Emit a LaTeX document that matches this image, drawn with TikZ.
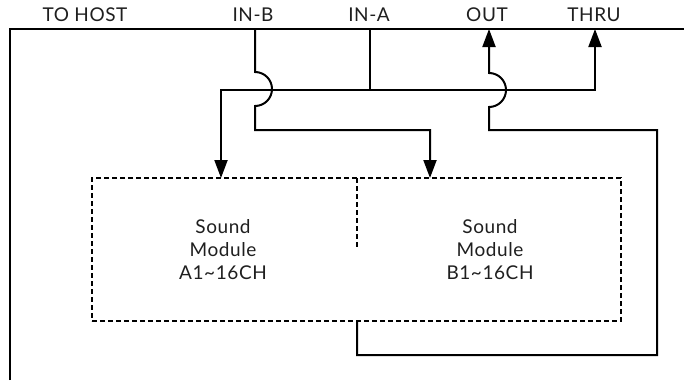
\documentclass[tikz,border=0pt]{standalone}
\usepackage{fontspec}
\setmainfont{Lato}[LetterSpace=3]
\usetikzlibrary{arrows.meta}
\begin{document}
\begin{tikzpicture}[x=1pt,y=-1pt,
  wire/.style={line width=2pt,line join=miter},
  arr/.style={wire,-{Triangle[length=18pt,width=13pt]}},
  dash box/.style={line width=1.1pt,dash pattern=on 5pt off 3pt},
  portlabel/.style={anchor=base,inner sep=0pt,text=black!88,font=\fontsize{19}{20}\selectfont},
  modtext/.style={align=center,inner sep=0pt,text=black!88,font=\fontsize{19}{23}\selectfont}]
\useasboundingbox (0,0) rectangle (684,380);
% frame
\coordinate (BL) at (10,380);
\coordinate (TR) at (684,29);
\draw[wire] (BL) |- (TR);
% port labels
\node[portlabel] (lhost) at (85,21) {TO HOST};
\node[portlabel] (linb) at (253,21) {IN-B};
\node[portlabel] (lina) at (369,21) {IN-A};
\node[portlabel] (lout) at (487,21) {OUT};
\node[portlabel] (lthru) at (594,21) {THRU};
% ports on the frame
\coordinate (inb) at (255,29);
\coordinate (ina) at (370,29);
\coordinate (out) at (489,29);
\coordinate (thru) at (595,29);
% dashed module box
\node[draw,dash box,minimum width=529pt,minimum height=143pt,inner sep=0pt] (box) at (356.5,249.5) {};
\coordinate (divtop) at (357,178);
\coordinate (divbot) at (357,248);
\draw[dash box] (divtop) -- (divbot);
\node[modtext] (txtA) at (223,250) {Sound\\Module\\A1\textasciitilde16CH};
\node[modtext] (txtB) at (490,250) {Sound\\Module\\B1\textasciitilde16CH};
% targets on the box
\coordinate (ainA) at (221,178);
\coordinate (ainB) at (430,178);
\coordinate (bout) at (357,321);
% IN-A junction feeding module A and THRU
\coordinate (jA) at (370,90);
\draw[wire] (ina) -- (jA);
\draw[arr] (jA) -| (ainA);
\draw[arr] (jA) -| (thru);
% IN-B to module B, hopping over the IN-A line
\draw[arr] (inb) -- (255,72) arc[start angle=-90,end angle=90,radius=17] -- (255,130) -| (ainB);
% module output back to OUT, hopping over the IN-A line
\draw[arr] (bout) -- (357,355) -- (657,355) -- (657,130) -- (489,130) -- (489,107) arc[start angle=90,end angle=-90,radius=17] -- (out);
\end{tikzpicture}
\end{document}
